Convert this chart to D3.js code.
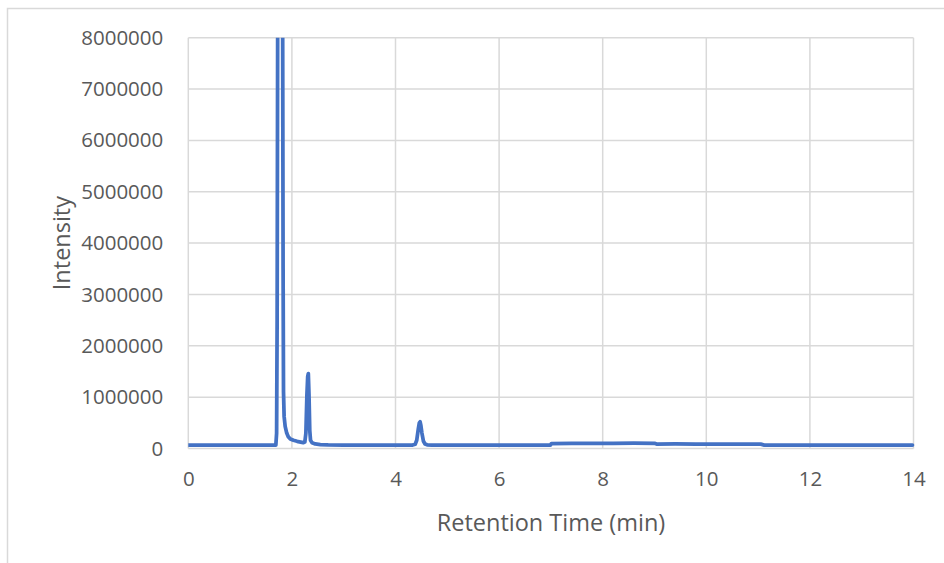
<!DOCTYPE html>
<html>
<head>
<meta charset="utf-8">
<script src="https://cdn.jsdelivr.net/npm/d3@7/dist/d3.min.js"></script>
<style>
  html, body { margin: 0; padding: 0; background: #fff; }
  svg { display: block; }
  text { font-family: "Open Sans", "Liberation Sans", sans-serif; fill: #595959; }
</style>
</head>
<body>
<svg id="chart" width="944" height="563"></svg>
<script>
// Chromatogram: retention time (min) vs detector intensity
const retentionTime = [
  0.00, 0.50, 1.00, 1.50, 1.69, 1.705, 1.715, 1.725, 1.74, 1.77, 1.80, 1.815, 1.822,
  1.83, 1.838, 1.85, 1.87, 1.90, 1.93, 1.97, 2.03, 2.10, 2.17, 2.22, 2.25, 2.27,
  2.29, 2.305, 2.317, 2.33, 2.345, 2.36, 2.39, 2.45, 2.55, 2.70, 3.00, 3.50, 4.00,
  4.33, 4.38, 4.41, 4.44, 4.46, 4.475, 4.49, 4.51, 4.54, 4.57, 4.61, 4.70, 5.00,
  5.50, 6.00, 6.50, 6.99, 7.01, 7.40, 7.80, 8.20, 8.60, 9.00, 9.04, 9.40, 9.80,
  10.20, 10.60, 11.05, 11.12, 11.60, 12.20, 12.80, 13.40, 13.98
];
const intensity = [
  66000, 65000, 66000, 65000, 66000, 300000, 2500000, 8000000, 15000000, 17000000, 14500000, 10500000, 8000000,
  3500000, 1100000, 620000, 430000, 300000, 230000, 185000, 160000, 140000, 125000, 115000, 125000, 300000,
  1050000, 1400000, 1460000, 1050000, 350000, 160000, 110000, 88000, 76000, 70000, 67000, 66000, 66000,
  68000, 84000, 160000, 380000, 500000, 520000, 450000, 300000, 140000, 88000, 72000, 67000, 66000,
  65000, 66000, 65000, 66000, 96000, 98000, 100000, 102000, 104000, 101000, 86000, 88000, 87000,
  86000, 85000, 84000, 67000, 66000, 65000, 66000, 65000, 66000
];

const xTicks = [0, 2, 4, 6, 8, 10, 12, 14];
const yTicks = [0, 1000000, 2000000, 3000000, 4000000, 5000000, 6000000, 7000000, 8000000];

const xTitle = "Retention Time (min)";
const yTitle = "Intensity";

const svg = d3.select("#chart");
const plot = { left: 188.3, right: 913.5, top: 37.7, bottom: 448.5 };

// outer chart frame
svg.append("rect")
  .attr("x", 7.5).attr("y", 8.5)
  .attr("width", 1000).attr("height", 1000)
  .attr("fill", "none").attr("stroke", "#d9d9d9").attr("stroke-width", 1.5);

const x = d3.scaleLinear().domain([0, 14]).range([plot.left, plot.right]);
const y = d3.scaleLinear().domain([0, 8000000]).range([plot.bottom, plot.top]);

// gridlines
svg.append("g").selectAll("line.h").data(yTicks).join("line")
  .attr("x1", plot.left).attr("x2", plot.right)
  .attr("y1", d => y(d)).attr("y2", d => y(d))
  .attr("stroke", "#d9d9d9").attr("stroke-width", 1.5);
svg.append("g").selectAll("line.v").data(xTicks).join("line")
  .attr("x1", d => x(d)).attr("x2", d => x(d))
  .attr("y1", plot.top).attr("y2", plot.bottom)
  .attr("stroke", "#d9d9d9").attr("stroke-width", 1.5);

// tick labels
const yAxis = d3.axisLeft(y).tickValues(yTicks).tickSize(0).tickPadding(25)
  .tickFormat(d3.format("d"));
const gy = svg.append("g").attr("transform", `translate(${plot.left},0)`).call(yAxis);
gy.select(".domain").remove();
gy.selectAll("text").attr("font-size", 20.5).attr("fill", "#595959")
  .attr("font-family", "\"Open Sans\", sans-serif");

const xAxis = d3.axisBottom(x).tickValues(xTicks).tickSize(0).tickPadding(23)
  .tickFormat(d3.format("d"));
const gx = svg.append("g").attr("transform", `translate(0,${plot.bottom})`).call(xAxis);
gx.select(".domain").remove();
gx.selectAll("text").attr("font-size", 20.5).attr("fill", "#595959")
  .attr("font-family", "\"Open Sans\", sans-serif");

// axis titles
svg.append("text")
  .attr("x", 551).attr("y", 522)
  .attr("text-anchor", "middle").attr("dominant-baseline", "central")
  .attr("font-size", 23.5).text(xTitle);
svg.append("text")
  .attr("transform", `translate(61,${(plot.top + plot.bottom) / 2}) rotate(-90)`)
  .attr("text-anchor", "middle").attr("dominant-baseline", "central")
  .attr("font-size", 23.5).text(yTitle);

// trace, clipped to the plot area
svg.append("clipPath").attr("id", "plotClip")
  .append("rect").attr("x", plot.left).attr("y", plot.top)
  .attr("width", plot.right - plot.left + 4).attr("height", plot.bottom - plot.top);

const points = retentionTime.map((t, i) => [t, intensity[i]]);
const line = d3.line().x(d => x(d[0])).y(d => y(d[1]));
svg.append("path")
  .datum(points)
  .attr("clip-path", "url(#plotClip)")
  .attr("d", line)
  .attr("fill", "none")
  .attr("stroke", "#4472c4")
  .attr("stroke-width", 3.75)
  .attr("stroke-linejoin", "round")
  .attr("stroke-linecap", "round");
</script>
</body>
</html>
